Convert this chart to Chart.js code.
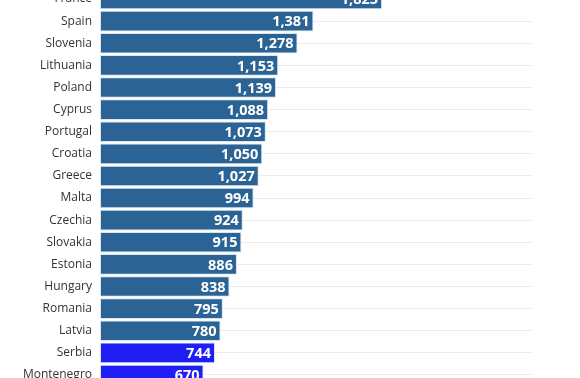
<!DOCTYPE html>
<html>
<head>
<meta charset="utf-8">
<script src="https://cdn.jsdelivr.net/npm/chart.js@4"></script>
<style>
  html, body { margin: 0; padding: 0; background: #fff; overflow: hidden; width: 580px; height: 378px; }
  #grafica { position: absolute; left: 0; top: -12px; }
</style>
</head>
<body>
<canvas id="grafica" width="580" height="398"></canvas>
<script>
// Datos
const paises = ['France', 'Spain', 'Slovenia', 'Lithuania', 'Poland', 'Cyprus', 'Portugal', 'Croatia',
  'Greece', 'Malta', 'Czechia', 'Slovakia', 'Estonia', 'Hungary', 'Romania', 'Latvia', 'Serbia', 'Montenegro'];
const valores = [1825, 1381, 1278, 1153, 1139, 1088, 1073, 1050, 1027, 994, 924, 915, 886, 838, 795, 780, 744, 670];
const resaltados = ['Serbia', 'Montenegro'];

const colores = paises.map(p => resaltados.includes(p) ? '#1f1ff5' : '#2b6494');

// Plugin para escribir el valor dentro de la barra
const etiquetas = {
  id: 'etiquetas',
  afterDatasetsDraw(chart) {
    const ctx = chart.ctx;
    const meta = chart.getDatasetMeta(0);
    ctx.save();
    ctx.font = 'bold 14.5px "Open Sans"';
    ctx.fillStyle = '#ffffff';
    ctx.textAlign = 'right';
    ctx.textBaseline = 'middle';
    meta.data.forEach((bar, i) => {
      ctx.fillText(valores[i].toLocaleString('en-US'), bar.x - 4, bar.y + 1);
    });
    ctx.restore();
  }
};

new Chart(document.getElementById('grafica'), {
  type: 'bar',
  data: {
    labels: paises,
    datasets: [{
      data: valores,
      backgroundColor: colores,
      borderColor: '#d6e6f2',
      borderWidth: 1,
      borderSkipped: false,
      barPercentage: 0.95,
      categoryPercentage: 0.98
    }]
  },
  options: {
    indexAxis: 'y',
    responsive: false,
    animation: false,
    layout: { padding: { left: 0, right: 48, top: 0, bottom: 0 } },
    scales: {
      x: {
        display: false,
        min: 0,
        max: 2795
      },
      y: {
        grid: { offset: false, color: '#ececec', lineWidth: 1, drawTicks: false },
        border: { display: false },
        ticks: {
          color: '#333333',
          font: { family: 'Open Sans', size: 12 },
          padding: 8
        },
        afterFit(axis) {
          axis.width = 100;
          axis.paddingTop = 0;
          axis.paddingBottom = 0;
        }
      }
    },
    plugins: {
      legend: { display: false },
      tooltip: { enabled: false }
    }
  },
  plugins: [etiquetas]
});
</script>
</body>
</html>
